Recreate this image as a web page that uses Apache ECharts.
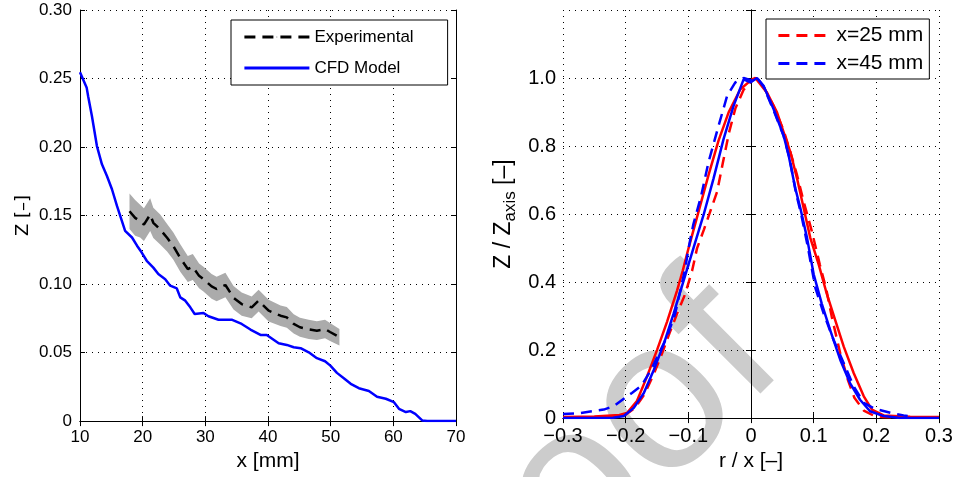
<!DOCTYPE html>
<html>
<head>
<meta charset="utf-8">
<script src="https://cdn.jsdelivr.net/npm/echarts@6/dist/echarts.min.js"></script>
<style>
html,body{margin:0;padding:0;background:#fff;}
#chart{width:956px;height:477px;}
</style>
</head>
<body>
<div id="chart"></div>
<script>
// ---- Left panel: centerline Z vs x ----
const cfdX = [10, 11.07, 11.3, 11.9, 12.7, 13.5, 14.3, 15.1, 15.9, 17.2, 18.3, 19.1, 19.85, 20.65, 21.7, 22.5, 23.6, 24.4, 25.45, 26.0, 26.8, 27.6, 28.3, 29.7, 30.5, 32.1, 34.2, 35.8, 37.2, 38.8, 39.8, 41.7, 43.0, 44.1, 45.2, 46.5, 47.8, 49.1, 49.95, 51.0, 52.1, 53.2, 54.5, 56.1, 57.4, 58.8, 60.1, 60.9, 62.0, 62.7, 63.5, 64.6, 65.4, 70];
const cfdZ = [0.2546, 0.2432, 0.237, 0.2226, 0.2007, 0.1874, 0.1789, 0.1692, 0.157, 0.1388, 0.134, 0.128, 0.123, 0.117, 0.112, 0.1073, 0.1036, 0.0988, 0.0968, 0.0903, 0.0879, 0.083, 0.0782, 0.0789, 0.0765, 0.074, 0.074, 0.0709, 0.0668, 0.0629, 0.0629, 0.0568, 0.0556, 0.0539, 0.0532, 0.0502, 0.0459, 0.0437, 0.0405, 0.0352, 0.0313, 0.0272, 0.024, 0.022, 0.0178, 0.0163, 0.0138, 0.009, 0.0066, 0.0073, 0.0053, 0.0005, 0, 0];
const expX = [17.9, 18.8, 19.6, 20.2, 21.2, 21.7, 22.8, 23.9, 24.9, 26.0, 27.2, 28.0, 29.0, 29.7, 31.0, 31.8, 33.2, 34.5, 35.8, 37.4, 38.5, 40.1, 42.0, 43.0, 44.1, 45.1, 46.5, 47.8, 49.1, 49.9, 51.4];
const expZ = [0.1531, 0.1483, 0.1459, 0.1434, 0.1507, 0.1447, 0.1398, 0.1338, 0.1277, 0.119, 0.111, 0.1125, 0.106, 0.1036, 0.0983, 0.0964, 0.0993, 0.09, 0.0854, 0.083, 0.0879, 0.0806, 0.0769, 0.0757, 0.0709, 0.0685, 0.067, 0.066, 0.0672, 0.065, 0.0612];
const expErr = [0.013, 0.013, 0.012, 0.012, 0.012, 0.011, 0.011, 0.010, 0.010, 0.010, 0.0095, 0.0095, 0.009, 0.009, 0.009, 0.009, 0.009, 0.0085, 0.0085, 0.008, 0.008, 0.008, 0.0075, 0.0075, 0.007, 0.007, 0.007, 0.0068, 0.0068, 0.0065, 0.006];

// ---- Right panel: radial profiles Z/Zaxis vs r/x ----
const cfd25R = [-0.30, -0.25, -0.21, -0.198, -0.182, -0.166, -0.150, -0.134, -0.118, -0.109, -0.0996, -0.0836, -0.0677, -0.0517, -0.0357, -0.017, 0.0016, 0.007, 0.0255, 0.0415, 0.052, 0.0627, 0.0734, 0.084, 0.0946, 0.108, 0.121, 0.1345, 0.148, 0.164, 0.180, 0.193, 0.2116, 0.254, 0.30];
const cfd25Z = [0.003, 0.005, 0.009, 0.015, 0.05, 0.122, 0.200, 0.283, 0.375, 0.433, 0.50, 0.608, 0.715, 0.8165, 0.899, 0.967, 0.996, 1.0, 0.957, 0.899, 0.841, 0.783, 0.705, 0.6175, 0.530, 0.452, 0.365, 0.2875, 0.21, 0.132, 0.064, 0.025, 0.008, 0.004, 0.003];
const cfd45R = [-0.30, -0.22, -0.203, -0.187, -0.171, -0.155, -0.139, -0.1235, -0.1075, -0.0916, -0.0756, -0.0597, -0.0437, -0.0278, -0.0118, -0.001, 0.0096, 0.020, 0.036, 0.052, 0.060, 0.0707, 0.0787, 0.0894, 0.1, 0.113, 0.1265, 0.1425, 0.158, 0.174, 0.190, 0.2116, 0.238, 0.30];
const cfd45Z = [0, 0.001, 0.006, 0.03, 0.074, 0.142, 0.219, 0.307, 0.404, 0.501, 0.598, 0.705, 0.821, 0.918, 0.996, 0.987, 1.0, 0.977, 0.909, 0.831, 0.773, 0.676, 0.6175, 0.530, 0.423, 0.336, 0.258, 0.171, 0.103, 0.054, 0.020, 0.006, 0, 0];
const exp25R = [-0.26, -0.22, -0.20, -0.185, -0.17, -0.155, -0.142, -0.13, -0.118, -0.105, -0.094, -0.086, -0.075, -0.065, -0.054, -0.045, -0.035, -0.025, -0.012, 0.0, 0.008, 0.02, 0.036, 0.052, 0.0627, 0.0734, 0.084, 0.097, 0.11, 0.12, 0.129, 0.1425, 0.155, 0.165, 0.18, 0.195, 0.21, 0.26];
const exp25Z = [0.002, 0.004, 0.010, 0.030, 0.07, 0.13, 0.19, 0.25, 0.307, 0.365, 0.433, 0.50, 0.555, 0.608, 0.666, 0.75, 0.84, 0.91, 0.965, 0.99, 1.0, 0.975, 0.918, 0.846, 0.783, 0.715, 0.637, 0.55, 0.45, 0.38, 0.297, 0.19, 0.11, 0.06, 0.022, 0.008, 0.003, 0.001];
const exp45R = [-0.30, -0.272, -0.235, -0.219, -0.198, -0.19, -0.175, -0.16, -0.147, -0.134, -0.121, -0.105, -0.0996, -0.092, -0.08, -0.0677, -0.0517, -0.038, -0.025, -0.0118, 0.004, 0.01, 0.02, 0.036, 0.052, 0.062, 0.072, 0.08, 0.09, 0.1026, 0.116, 0.132, 0.148, 0.164, 0.180, 0.198, 0.2275, 0.2435, 0.25];
const exp45Z = [0.012, 0.015, 0.025, 0.035, 0.064, 0.074, 0.095, 0.14, 0.19, 0.239, 0.307, 0.44, 0.50, 0.57, 0.65, 0.753, 0.860, 0.948, 0.987, 1.0, 0.991, 1.0, 0.975, 0.905, 0.83, 0.76, 0.66, 0.60, 0.51, 0.384, 0.307, 0.229, 0.161, 0.093, 0.045, 0.027, 0.0135, 0.008, 0.006];

const leftXTicks = [10, 20, 30, 40, 50, 60, 70];

function pairs(xs, ys) { return xs.map((x, i) => [x, ys[i]]); }

const FONT = "'Liberation Sans', Arial, Helvetica, sans-serif";
const dotted = { show: true, lineStyle: { color: '#000', width: 1, type: [1, 5] } };
const axLine = { show: true, lineStyle: { color: '#000', width: 1 } };
const tickIn = { show: true, inside: true, length: 5, lineStyle: { color: '#000', width: 1 } };

function mirrorAxis(grid, pos, min, max, interval) {
  return {
    type: 'value', gridIndex: grid, position: pos, min: min, max: max, interval: interval,
    axisLine: axLine, axisTick: tickIn, axisLabel: { show: false }, splitLine: { show: false }
  };
}

const fmtRx = v => Math.abs(v) < 1e-9 ? '0' : (v < 0 ? '\u2212' : '') + Math.abs(v).toFixed(1);

const option = {
  animation: false,
  backgroundColor: '#fff',
  textStyle: { fontFamily: FONT },
  grid: [
    { left: 80, top: 10, width: 376, height: 412, containLabel: false },
    { left: 563, top: 10, width: 376, height: 412, containLabel: false }
  ],
  xAxis: [
    {
      type: 'value', gridIndex: 0, position: 'bottom', min: 10, max: 70, interval: 10,
      axisLine: axLine, axisTick: tickIn, splitLine: dotted,
      axisLabel: { color: '#000', fontSize: 17, fontFamily: FONT, margin: 8,
        customValues: leftXTicks, formatter: v => String(v) },
      name: 'x [mm]', nameLocation: 'middle', nameGap: 29,
      nameTextStyle: { color: '#000', fontSize: 21, fontFamily: FONT }
    },
    mirrorAxis(0, 'top', 10, 70, 10),
    {
      type: 'value', gridIndex: 1, position: 'bottom', min: -0.3, max: 0.3, interval: 0.1,
      axisLine: axLine, axisTick: tickIn, splitLine: dotted,
      axisLabel: { color: '#000', fontSize: 20, fontFamily: FONT, margin: 8, formatter: fmtRx },
      name: 'r / x [\u2013]', nameLocation: 'middle', nameGap: 32,
      nameTextStyle: { color: '#000', fontSize: 21, fontFamily: FONT }
    },
    mirrorAxis(1, 'top', -0.3, 0.3, 0.1)
  ],
  yAxis: [
    {
      type: 'value', gridIndex: 0, position: 'left', min: 0, max: 0.3, interval: 0.05,
      axisLine: axLine, axisTick: tickIn, splitLine: dotted,
      axisLabel: { color: '#000', fontSize: 17, fontFamily: FONT, margin: 8,
        formatter: v => v === 0 ? '0' : v.toFixed(2) },
      name: 'Z [\u2013]', nameLocation: 'middle', nameGap: 48,
      nameTextStyle: { color: '#000', fontSize: 18, fontFamily: "'DejaVu Sans', sans-serif" }
    },
    mirrorAxis(0, 'right', 0, 0.3, 0.05),
    {
      type: 'value', gridIndex: 1, position: 'left', min: 0, max: 1.2, interval: 0.2,
      axisLine: axLine, axisTick: tickIn, splitLine: dotted,
      axisLabel: { color: '#000', fontSize: 20, fontFamily: FONT, margin: 7,
        formatter: v => v > 1.1 ? '' : (v === 0 ? '0' : v.toFixed(1)) },
      name: '{a|Z / Z}{s|axis}{a| [\u2013]}', nameLocation: 'middle', nameGap: 44,
      nameTextStyle: {
        color: '#000', fontFamily: FONT,
        rich: {
          a: { fontSize: 23, fontFamily: FONT, color: '#000', lineHeight: 27, verticalAlign: 'top' },
          s: { fontSize: 17, fontFamily: FONT, color: '#000', lineHeight: 15, verticalAlign: 'bottom' }
        }
      }
    },
    mirrorAxis(1, 'right', 0, 1.2, 0.2)
  ],
  legend: [
    {
      left: 231, top: 20, orient: 'vertical', align: 'left',
      data: ['Experimental', 'CFD Model'],
      backgroundColor: '#fff', borderColor: '#000', borderWidth: 1, borderRadius: 0,
      padding: [7, 34, 7, 12], itemGap: 11, itemWidth: 65, itemHeight: 1,
      lineStyle: { width: 2.8 },
      textStyle: { color: '#000', fontSize: 17, fontFamily: FONT, lineHeight: 20 },
      selectedMode: false
    },
    {
      left: 766, top: 19, orient: 'vertical', align: 'left',
      data: ['x=25 mm', 'x=45 mm'],
      backgroundColor: '#fff', borderColor: '#000', borderWidth: 1, borderRadius: 0,
      padding: [6, 6, 5, 11], itemGap: 7, itemWidth: 53, itemHeight: 1,
      lineStyle: { width: 2.8 },
      textStyle: { color: '#000', fontSize: 21, fontFamily: FONT, lineHeight: 20 },
      selectedMode: false
    }
  ],
  graphic: [
    {
      type: 'text', x: 574, y: 496, rotation: Math.PI / 4, z: -10, silent: true,
      style: { text: 'proof', fontSize: 215, fontFamily: FONT, fill: '#cccccc',
        align: 'center', verticalAlign: 'middle' }
    }
  ],
  series: [
    {
      type: 'custom', name: 'band', xAxisIndex: 0, yAxisIndex: 0, z: 1, silent: true,
      data: [[expX[0], expZ[0]]],
      renderItem: function (params, api) {
        const pts = [];
        for (let i = 0; i < expX.length; i++) pts.push(api.coord([expX[i], expZ[i] + expErr[i]]));
        for (let i = expX.length - 1; i >= 0; i--) pts.push(api.coord([expX[i], expZ[i] - expErr[i]]));
        return { type: 'polygon', shape: { points: pts }, style: { fill: '#ababab', stroke: null } };
      }
    },
    {
      type: 'line', name: 'Experimental', xAxisIndex: 0, yAxisIndex: 0, z: 3,
      data: pairs(expX, expZ), showSymbol: false, symbol: 'none',
      lineStyle: { color: '#000', width: 2.5, type: [11, 7] }, itemStyle: { color: '#000' }
    },
    {
      type: 'line', name: 'CFD Model', xAxisIndex: 0, yAxisIndex: 0, z: 3,
      data: pairs(cfdX, cfdZ), showSymbol: false, symbol: 'none',
      lineStyle: { color: '#0000ff', width: 2.5, type: 'solid' }, itemStyle: { color: '#0000ff' }
    },
    {
      type: 'line', name: 'CFD x=25', xAxisIndex: 2, yAxisIndex: 2, z: 3,
      data: pairs(cfd25R, cfd25Z), showSymbol: false, symbol: 'none',
      lineStyle: { color: '#ff0000', width: 2.5 }, itemStyle: { color: '#ff0000' }
    },
    {
      type: 'line', name: 'x=25 mm', xAxisIndex: 2, yAxisIndex: 2, z: 3,
      data: pairs(exp25R, exp25Z), showSymbol: false, symbol: 'none',
      lineStyle: { color: '#ff0000', width: 2.5, type: [11, 7] }, itemStyle: { color: '#ff0000' }
    },
    {
      type: 'line', name: 'CFD x=45', xAxisIndex: 2, yAxisIndex: 2, z: 3,
      data: pairs(cfd45R, cfd45Z), showSymbol: false, symbol: 'none',
      lineStyle: { color: '#0000ff', width: 2.5 }, itemStyle: { color: '#0000ff' }
    },
    {
      type: 'line', name: 'x=45 mm', xAxisIndex: 2, yAxisIndex: 2, z: 3,
      data: pairs(exp45R, exp45Z), showSymbol: false, symbol: 'none',
      lineStyle: { color: '#0000ff', width: 2.5, type: [11, 7] }, itemStyle: { color: '#0000ff' }
    }
  ]
};

const chart = echarts.init(document.getElementById('chart'), null, { renderer: 'canvas' });
chart.setOption(option);
</script>
</body>
</html>
